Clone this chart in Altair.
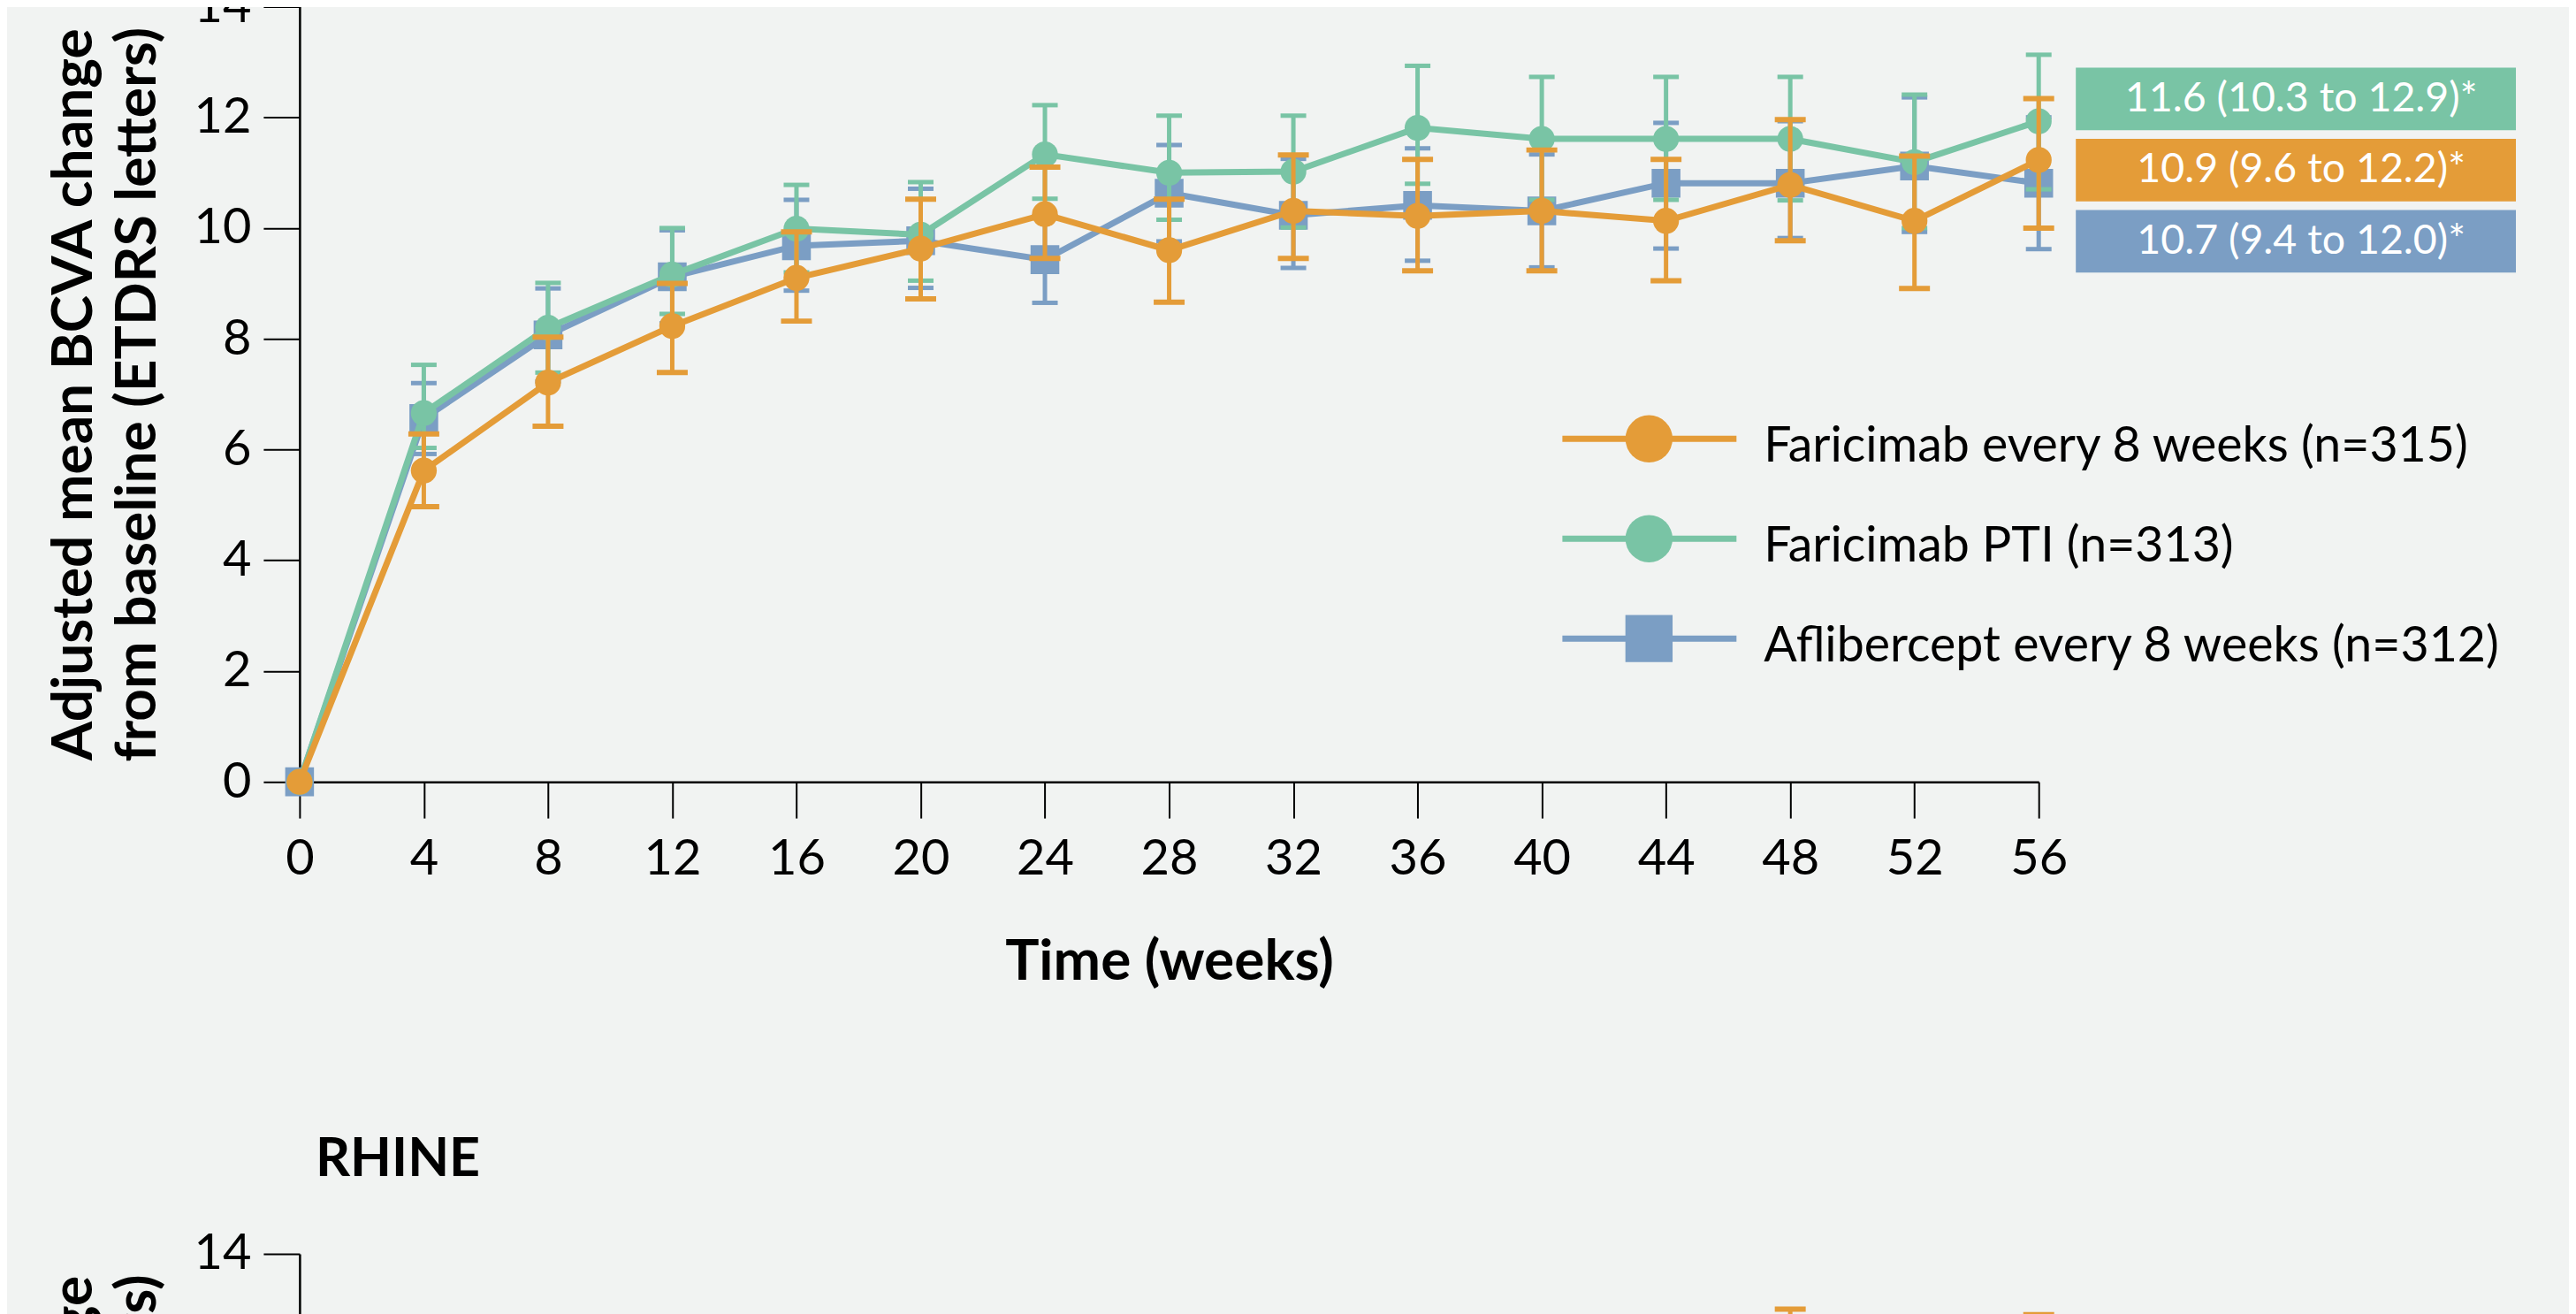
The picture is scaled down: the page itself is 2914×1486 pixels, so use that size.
import altair as alt
import pandas as pd

# ---------------- data ----------------
weeks = [0, 4, 8, 12, 16, 20, 24, 28, 32, 36, 40, 44, 48, 52, 56]

series_names = [
    "Faricimab every 8 weeks (n=315)",
    "Faricimab PTI (n=313)",
    "Aflibercept every 8 weeks (n=312)",
]
series_colors = ["#E49C38", "#79C4A5", "#7B9EC4"]
series_shapes = ["circle", "circle", "square"]

# TENAYA – Faricimab every 8 weeks
q8w_mean = [0, 5.62, 7.21, 8.23, 9.10, 9.63, 10.25, 9.60, 10.31, 10.22, 10.31, 10.13, 10.78, 10.13, 11.23]
q8w_hi = [0, 6.28, 8.03, 9.00, 9.93, 10.52, 11.10, 10.52, 11.32, 11.24, 11.41, 11.24, 11.96, 11.30, 12.34]
q8w_lo = [0, 4.97, 6.42, 7.39, 8.32, 8.72, 9.45, 8.66, 9.45, 9.23, 9.23, 9.05, 9.77, 8.91, 10.00]

# TENAYA – Faricimab PTI
pti_mean = [0, 6.66, 8.20, 9.16, 9.99, 9.88, 11.33, 11.00, 11.02, 11.81, 11.61, 11.61, 11.61, 11.19, 11.93]
pti_hi = [0, 7.53, 9.01, 10.00, 10.78, 10.83, 12.22, 12.03, 12.03, 12.93, 12.73, 12.73, 12.73, 12.41, 13.13]
pti_lo = [0, 6.03, 7.39, 8.45, 9.20, 9.05, 10.53, 10.15, 10.01, 10.80, 10.51, 10.51, 10.50, 10.00, 10.70]

# TENAYA – Aflibercept every 8 weeks
afl_mean = [0, 6.56, 8.07, 9.12, 9.68, 9.77, 9.43, 10.63, 10.23, 10.41, 10.31, 10.81, 10.81, 11.12, 10.81]
afl_hi = [0, 7.20, 8.91, 9.96, 10.51, 10.71, 10.21, 11.50, 11.25, 11.44, 11.33, 11.90, 11.93, 12.36, 12.00]
afl_lo = [0, 5.92, 7.23, 8.28, 8.87, 8.92, 8.65, 9.76, 9.28, 9.41, 9.29, 9.63, 9.82, 9.93, 9.62]

# annotation boxes (week 40-48 averages)
ann_series = ["Faricimab PTI (n=313)", "Faricimab every 8 weeks (n=315)", "Aflibercept every 8 weeks (n=312)"]
ann_labels = ["11.6 (10.3 to 12.9)*", "10.9 (9.6 to 12.2)*", "10.7 (9.4 to 12.0)*"]

# RHINE panel – only the top of two orange error bars is visible
rhine_weeks = [48, 56]
rhine_q8w_mean = [11.8, 11.7]
rhine_q8w_hi = [13.0, 12.9]
rhine_q8w_lo = [10.6, 10.5]

x_ticks = weeks
y_ticks = [0, 2, 4, 6, 8, 10, 12, 14]

# ---------------- build tables ----------------
def long_table(name, wk, mean, lo, hi):
    return pd.DataFrame({"series": name, "week": wk, "mean": mean, "lo": lo, "hi": hi})

tenaya = {
    series_names[0]: long_table(series_names[0], weeks, q8w_mean, q8w_lo, q8w_hi),
    series_names[1]: long_table(series_names[1], weeks, pti_mean, pti_lo, pti_hi),
    series_names[2]: long_table(series_names[2], weeks, afl_mean, afl_lo, afl_hi),
}
rhine = {
    series_names[0]: long_table(series_names[0], rhine_weeks, rhine_q8w_mean, rhine_q8w_lo, rhine_q8w_hi),
}

# ---------------- styling ----------------
FONT = "Lato"
W, H = 1968, 877
BG = "#F1F3F2"

style = {
    series_names[0]: dict(color=series_colors[0], shape="circle", size=860, capw=35, capt=6),
    series_names[1]: dict(color=series_colors[1], shape="circle", size=860, capw=29, capt=5),
    series_names[2]: dict(color=series_colors[2], shape="square", size=1060, capw=29, capt=5),
}
draw_order = [series_names[2], series_names[1], series_names[0]]

x_scale = alt.Scale(domain=[0, 56], nice=False, zero=False)
y_scale = alt.Scale(domain=[0, 14], nice=False, zero=False)
x_axis = alt.Axis(values=x_ticks, title="Time (weeks)", labelPadding=19, titlePadding=57,
                  labelFlush=False, labelOverlap=False)
y_axis = alt.Axis(values=y_ticks, title=["Adjusted mean BCVA change", "from baseline (ETDRS letters)"],
                  labelPadding=14, titlePadding=30, titleLineHeight=73,
                  labelFlush=False, labelOverlap=False)

color_scale = alt.Scale(domain=series_names, range=series_colors)
shape_scale = alt.Scale(domain=series_names, range=series_shapes)


def X():
    return alt.X("week:Q", scale=x_scale, axis=x_axis)


def Y(field):
    return alt.Y(f"{field}:Q", scale=y_scale, axis=y_axis)


def data_layers(tables):
    layers = []
    for name in draw_order:
        if name not in tables:
            continue
        st = style[name]
        base = alt.Chart(tables[name])
        eb = base.transform_filter("datum.week > 0")
        layers.append(eb.mark_rule(color=st["color"], strokeWidth=5).encode(x=X(), y=Y("lo"), y2="hi:Q"))
        layers.append(eb.mark_tick(color=st["color"], orient="horizontal", size=st["capw"],
                                   thickness=st["capt"], opacity=1).encode(x=X(), y=Y("hi")))
        layers.append(eb.mark_tick(color=st["color"], orient="horizontal", size=st["capw"],
                                   thickness=st["capt"], opacity=1).encode(x=X(), y=Y("lo")))
        layers.append(base.mark_line(color=st["color"], strokeWidth=7).encode(x=X(), y=Y("mean")))
        layers.append(base.mark_point(shape=st["shape"], filled=True, size=st["size"],
                                      color=st["color"], opacity=1).encode(x=X(), y=Y("mean")))
    return alt.layer(*layers)


# annotation boxes
ann_df = pd.DataFrame({"series": ann_series, "label": ann_labels})
ann_y = alt.Y("series:N", scale=alt.Scale(type="band", domain=ann_series, range=[69, 301],
                                           paddingInner=0.12, paddingOuter=0), axis=None)
ann_boxes = alt.Chart(ann_df).mark_rect().encode(
    x=alt.value(2010), x2=alt.value(2508), y=ann_y,
    color=alt.Color("series:N", scale=color_scale, legend=None))
ann_text = alt.Chart(ann_df).mark_text(font=FONT, fontSize=46.5, color="white", baseline="middle").encode(
    x=alt.value(2265), y=ann_y, text="label:N")

# custom legend (line through marker)
leg_df = pd.DataFrame({"series": series_names})
leg_y = alt.Y("series:N", scale=alt.Scale(type="point", domain=series_names, range=[489, 715], padding=0),
              axis=None)
leg_rule = alt.Chart(leg_df).mark_rule(strokeWidth=7).encode(
    x=alt.value(1429), x2=alt.value(1626), y=leg_y,
    color=alt.Color("series:N", scale=color_scale, legend=None))
leg_pt = alt.Chart(leg_df).mark_point(filled=True, size=2850, opacity=1).encode(
    x=alt.value(1527), y=leg_y,
    color=alt.Color("series:N", scale=color_scale, legend=None),
    shape=alt.Shape("series:N", scale=shape_scale, legend=None))
leg_txt = alt.Chart(leg_df).mark_text(font=FONT, fontSize=55.5, align="left", baseline="middle",
                                      dy=9, color="black").encode(
    x=alt.value(1657), y=leg_y, text="series:N")

panel1 = alt.layer(
    data_layers(tenaya), ann_boxes, ann_text, leg_rule, leg_pt, leg_txt
).resolve_scale(y="independent").properties(width=W, height=H)

panel2 = data_layers(rhine).properties(
    width=W, height=H,
    title=alt.TitleParams("RHINE", anchor="start", frame="group", font=FONT, fontSize=61,
                          fontWeight="bold", color="black", dx=18, offset=47),
)

chart = alt.vconcat(panel1, panel2, spacing=161).properties(
    padding={"left": 44, "top": -29, "right": 60, "bottom": 0},
    background=BG,
).configure_view(stroke=None).configure_axis(
    labelFont=FONT, labelFontSize=56, labelColor="black",
    titleFont=FONT, titleFontSize=64, titleFontWeight="bold", titleColor="black",
    domainColor="black", domainWidth=2.5, tickColor="black", tickWidth=2, tickSize=41,
    grid=False,
)

chart.save("out.html", embed_options={"renderer": "svg", "actions": False})
